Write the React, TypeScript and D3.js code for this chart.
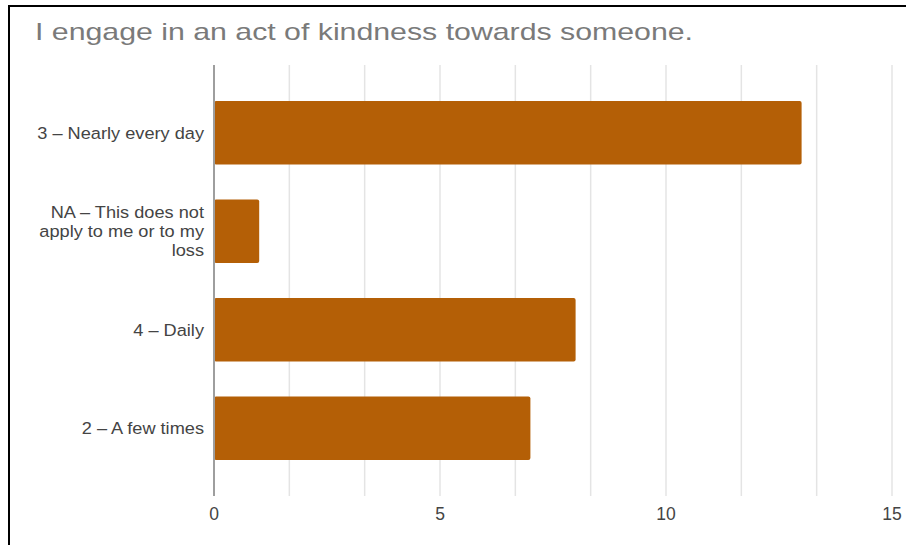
import React, { useEffect, useRef } from "react";
import * as d3 from "d3";

const title = "I engage in an act of kindness towards someone.";
const categories: string[][] = [
  ["3 – Nearly every day"],
  ["NA – This does not", "apply to me or to my", "loss"],
  ["4 – Daily"],
  ["2 – A few times"],
];
const values = [13, 1, 8, 7];
const tickValues = [0, 5, 10, 15];
const gridValues = [0, 5 / 3, 10 / 3, 5, 20 / 3, 25 / 3, 10, 35 / 3, 40 / 3, 15];

const W = 906;
const H = 545;
const x0 = 214;
const x1 = 892;
const yTop = 65;
const yBot = 496;
const labelX = 204;
const barColor = "#b45f06";
const font = "Arial, 'Liberation Sans', sans-serif";

export default function App() {
  const ref = useRef<SVGSVGElement>(null);

  useEffect(() => {
    const svg = d3.select(ref.current);
    svg.selectAll("*").remove();

    const x = d3.scaleLinear().domain([0, 15]).range([x0, x1]);
    const y = d3
      .scaleBand<number>()
      .domain(d3.range(categories.length))
      .range([yTop, yBot])
      .paddingInner(0.355)
      .paddingOuter(0.365);

    // frame
    svg
      .append("path")
      .attr("d", `M9,${H} L9,6 L${W},6`)
      .attr("fill", "none")
      .attr("stroke", "#000")
      .attr("stroke-width", 2);

    // title
    svg
      .append("text")
      .attr("x", 35)
      .attr("y", 40)
      .attr("fill", "#7a7a7a")
      .attr("font-family", font)
      .attr("font-size", 24)
      .attr("textLength", 658)
      .attr("lengthAdjust", "spacingAndGlyphs")
      .text(title);

    // grid
    svg
      .append("g")
      .selectAll("line")
      .data(gridValues.filter((d) => d > 0))
      .join("line")
      .attr("x1", (d) => x(d))
      .attr("x2", (d) => x(d))
      .attr("y1", yTop)
      .attr("y2", yBot)
      .attr("stroke", "#e4e4e4")
      .attr("stroke-width", 1.5);

    // bars
    svg
      .append("g")
      .selectAll("rect")
      .data(values)
      .join("rect")
      .attr("x", x(0))
      .attr("y", (_, i) => y(i)!)
      .attr("width", (d) => x(d) - x(0))
      .attr("height", y.bandwidth())
      .attr("rx", 2)
      .attr("fill", barColor);

    // axis line
    svg
      .append("line")
      .attr("x1", x(0))
      .attr("x2", x(0))
      .attr("y1", yTop)
      .attr("y2", yBot)
      .attr("stroke", "#9e9e9e")
      .attr("stroke-width", 2);

    // y labels
    const lh = 19;
    const gy = svg
      .append("g")
      .attr("transform", `translate(${labelX},0) scale(1.07,1)`);
    categories.forEach((lines, i) => {
      const cy = y(i)! + y.bandwidth() / 2;
      const start = cy + 6 - ((lines.length - 1) * lh) / 2;
      const txt = gy
        .append("text")
        .attr("text-anchor", "end")
        .attr("fill", "#444")
        .attr("font-family", font)
        .attr("font-size", 17);
      lines.forEach((l, j) => {
        txt
          .append("tspan")
          .attr("x", 0)
          .attr("y", start + j * lh)
          .text(l);
      });
    });

    // x tick labels
    svg
      .append("g")
      .selectAll("text")
      .data(tickValues)
      .join("text")
      .attr("x", (d) => x(d))
      .attr("y", 520)
      .attr("text-anchor", "middle")
      .attr("fill", "#444")
      .attr("font-family", font)
      .attr("font-size", 17.5)
      .text((d) => String(d));
  }, []);

  return (
    <svg
      ref={ref}
      width={W}
      height={H}
      style={{ position: "fixed", left: 0, top: 0, background: "#fff" }}
    />
  );
}
